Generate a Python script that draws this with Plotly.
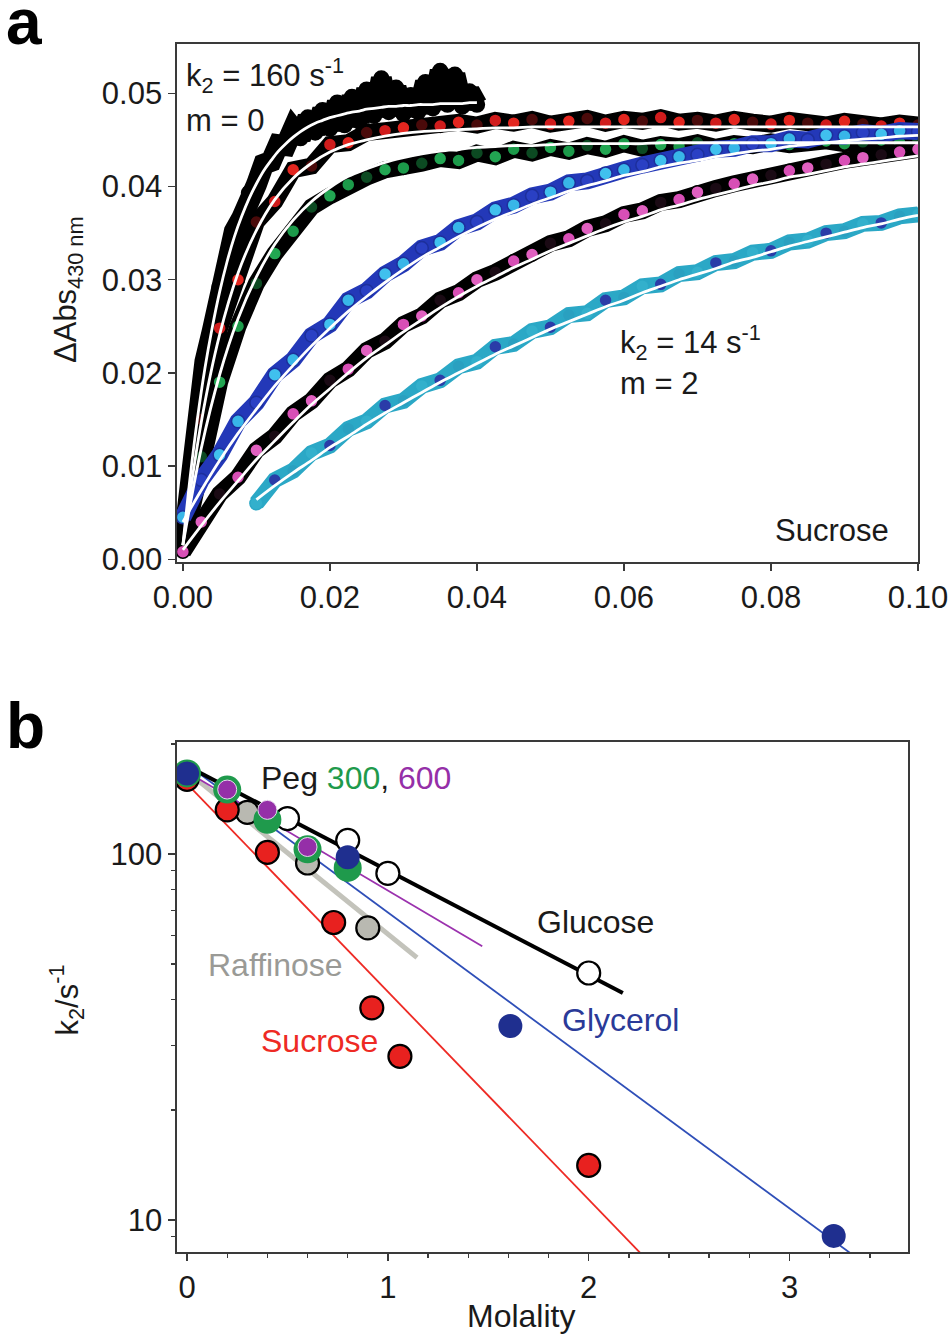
import plotly.graph_objects as go

# ---------------- Panel a data (time in s, dAbs) ----------------
T = [0.0, 0.0025, 0.005, 0.0075, 0.01, 0.0125, 0.015, 0.0175, 0.02, 0.0225,
     0.025, 0.0275, 0.03, 0.0325, 0.035, 0.0375, 0.04, 0.0425, 0.045, 0.0475,
     0.05, 0.0525, 0.055, 0.0575, 0.06, 0.0625, 0.065, 0.0675, 0.07, 0.0725,
     0.075, 0.0775, 0.08, 0.0825, 0.085, 0.0875, 0.09, 0.0925, 0.095, 0.0975, 0.1]
T_BLACK = [0.0, 0.001, 0.002, 0.003, 0.004, 0.005, 0.006, 0.007, 0.008, 0.009,
           0.010, 0.011, 0.012, 0.013, 0.014, 0.015, 0.016, 0.017, 0.018, 0.019,
           0.020, 0.021, 0.022, 0.023, 0.024, 0.025, 0.026, 0.027, 0.028, 0.029,
           0.030, 0.031, 0.032, 0.033, 0.034, 0.035, 0.036, 0.037, 0.038, 0.039, 0.040]
T_TEAL = T[4:]

black_data = [0.0012, 0.0088, 0.0150, 0.0212, 0.0245, 0.0292, 0.0318, 0.0352, 0.0366, 0.0393,
              0.0402, 0.0424, 0.0427, 0.0445, 0.0444, 0.0462, 0.0452, 0.0474, 0.0458, 0.0482,
              0.0462, 0.0490, 0.0466, 0.0496, 0.0470, 0.0504, 0.0476, 0.0516, 0.0480, 0.0506,
              0.0478, 0.0498, 0.0480, 0.0512, 0.0484, 0.0524, 0.0488, 0.0520, 0.0486, 0.0502, 0.0488]
black_fit = [0.0015, 0.0089, 0.0152, 0.0205, 0.0249, 0.0287, 0.0319, 0.0346, 0.0368, 0.0387,
             0.0403, 0.0417, 0.0428, 0.0438, 0.0446, 0.0453, 0.0459, 0.0464, 0.0468, 0.0471,
             0.0474, 0.0476, 0.0478, 0.0480, 0.0481, 0.0483, 0.0484, 0.0485, 0.0486, 0.0486,
             0.0487, 0.0487, 0.0488, 0.0488, 0.0488, 0.0489, 0.0489, 0.0489, 0.0489, 0.0490, 0.0490]

red_data = [0.0020, 0.0150, 0.0248, 0.0300, 0.0362, 0.0384, 0.0418, 0.0422, 0.0445, 0.0447,
            0.0458, 0.0460, 0.0463, 0.0466, 0.0465, 0.0469, 0.0466, 0.0471, 0.0468, 0.0472,
            0.0467, 0.0470, 0.0473, 0.0468, 0.0472, 0.0470, 0.0474, 0.0469, 0.0471, 0.0468,
            0.0472, 0.0469, 0.0467, 0.0471, 0.0468, 0.0466, 0.0470, 0.0467, 0.0465, 0.0468, 0.0466]
red_fit = [0.0015, 0.0147, 0.0241, 0.0307, 0.0353, 0.0386, 0.0409, 0.0425, 0.0437, 0.0445,
           0.0450, 0.0454, 0.0457, 0.0459, 0.0460, 0.0461, 0.0462, 0.0463, 0.0463, 0.0464,
           0.0464, 0.0464, 0.0464, 0.0464, 0.0464, 0.0464, 0.0464, 0.0464, 0.0464, 0.0464,
           0.0464, 0.0464, 0.0464, 0.0464, 0.0464, 0.0464, 0.0464, 0.0464, 0.0464, 0.0464, 0.0464]

green_data = [0.0010, 0.0110, 0.0190, 0.0250, 0.0296, 0.0328, 0.0352, 0.0378, 0.0390, 0.0402,
              0.0410, 0.0418, 0.0420, 0.0425, 0.0430, 0.0428, 0.0436, 0.0432, 0.0440, 0.0436,
              0.0442, 0.0438, 0.0444, 0.0440, 0.0446, 0.0441, 0.0445, 0.0443, 0.0447, 0.0442,
              0.0446, 0.0444, 0.0448, 0.0445, 0.0447, 0.0449, 0.0446, 0.0448, 0.0450, 0.0447, 0.0449]
green_fit = [0.0015, 0.0119, 0.0198, 0.0258, 0.0303, 0.0338, 0.0364, 0.0384, 0.0399, 0.0411,
             0.0419, 0.0426, 0.0431, 0.0435, 0.0438, 0.0440, 0.0442, 0.0443, 0.0444, 0.0444,
             0.0445, 0.0446, 0.0446, 0.0446, 0.0446, 0.0446, 0.0447, 0.0447, 0.0447, 0.0447,
             0.0447, 0.0447, 0.0447, 0.0447, 0.0447, 0.0447, 0.0447, 0.0447, 0.0447, 0.0447, 0.0447]

blue_data = [0.0045, 0.0085, 0.0112, 0.0148, 0.0168, 0.0198, 0.0214, 0.0240, 0.0252, 0.0278,
             0.0288, 0.0306, 0.0317, 0.0334, 0.0340, 0.0356, 0.0362, 0.0375, 0.0380, 0.0390,
             0.0394, 0.0404, 0.0406, 0.0414, 0.0418, 0.0423, 0.0428, 0.0432, 0.0434, 0.0440,
             0.0441, 0.0446, 0.0446, 0.0451, 0.0450, 0.0455, 0.0454, 0.0458, 0.0456, 0.0460, 0.0459]
blue_fit = [0.0040, 0.0074, 0.0106, 0.0135, 0.0161, 0.0186, 0.0208, 0.0229, 0.0248, 0.0266,
            0.0282, 0.0297, 0.0311, 0.0324, 0.0335, 0.0346, 0.0356, 0.0365, 0.0373, 0.0381,
            0.0388, 0.0395, 0.0401, 0.0406, 0.0412, 0.0416, 0.0421, 0.0425, 0.0428, 0.0432,
            0.0435, 0.0438, 0.0440, 0.0443, 0.0445, 0.0447, 0.0449, 0.0451, 0.0452, 0.0454, 0.0455]

magenta_data = [0.0008, 0.0040, 0.0070, 0.0088, 0.0117, 0.0132, 0.0156, 0.0170, 0.0192, 0.0204,
                0.0224, 0.0234, 0.0252, 0.0261, 0.0278, 0.0286, 0.0300, 0.0308, 0.0320, 0.0327,
                0.0339, 0.0344, 0.0355, 0.0360, 0.0370, 0.0374, 0.0383, 0.0386, 0.0394, 0.0398,
                0.0403, 0.0408, 0.0412, 0.0417, 0.0420, 0.0424, 0.0428, 0.0431, 0.0434, 0.0437, 0.0440]
magenta_fit = [0.0010, 0.0036, 0.0061, 0.0084, 0.0107, 0.0127, 0.0147, 0.0166, 0.0183, 0.0200,
               0.0216, 0.0230, 0.0244, 0.0257, 0.0270, 0.0282, 0.0293, 0.0303, 0.0313, 0.0322,
               0.0331, 0.0339, 0.0347, 0.0355, 0.0362, 0.0368, 0.0375, 0.0380, 0.0386, 0.0391,
               0.0396, 0.0401, 0.0405, 0.0410, 0.0413, 0.0417, 0.0421, 0.0424, 0.0427, 0.0430, 0.0433]

teal_data = [0.0060, 0.0085, 0.0095, 0.0114, 0.0122, 0.0140, 0.0148, 0.0165, 0.0170, 0.0186,
             0.0192, 0.0207, 0.0212, 0.0228, 0.0231, 0.0245, 0.0249, 0.0262, 0.0264, 0.0278,
             0.0281, 0.0293, 0.0295, 0.0306, 0.0308, 0.0318, 0.0320, 0.0329, 0.0331, 0.0340,
             0.0342, 0.0350, 0.0352, 0.0360, 0.0361, 0.0368, 0.0370]
teal_fit = [0.0064, 0.0079, 0.0093, 0.0106, 0.0120, 0.0132, 0.0145, 0.0157, 0.0168, 0.0179,
            0.0190, 0.0200, 0.0210, 0.0220, 0.0229, 0.0238, 0.0247, 0.0255, 0.0263, 0.0271,
            0.0278, 0.0286, 0.0293, 0.0300, 0.0306, 0.0312, 0.0319, 0.0324, 0.0330, 0.0336,
            0.0341, 0.0346, 0.0351, 0.0356, 0.0360, 0.0365, 0.0369]

A_XTICKS = [0.0, 0.02, 0.04, 0.06, 0.08, 0.10]
A_XLABELS = ["0.00", "0.02", "0.04", "0.06", "0.08", "0.10"]
A_YTICKS = [0.0, 0.01, 0.02, 0.03, 0.04, 0.05]
A_YLABELS = ["0.00", "0.01", "0.02", "0.03", "0.04", "0.05"]

# ---------------- Panel b data (molality, k2 / s^-1) ----------------
suc_m = [0.0, 0.20, 0.40, 0.73, 0.92, 1.06, 2.0]
suc_k = [160, 132, 101, 65, 38, 28, 14.1]
raf_m = [0.3, 0.6, 0.9]
raf_k = [130, 94.5, 62.8]
glu_m = [0.5, 0.8, 1.0, 2.0]
glu_k = [125, 109, 88.5, 47.3]
gly_m = [0.0, 0.8, 1.61, 3.22]
gly_k = [166, 98, 33.9, 9.05]
peg300_m = [0.0, 0.2, 0.4, 0.6, 0.8]
peg300_k = [166, 150, 124, 103, 91.6]
peg600_m = [0.2, 0.4, 0.6]
peg600_k = [150, 132, 104.5]

suc_fit_m, suc_fit_k = [0.0, 2.4], [155.5, 6.74]
gly_fit_m, gly_fit_k = [0.0, 3.45], [175.5, 7.08]
glu_fit_m, glu_fit_k = [0.0, 2.17], [174.0, 41.7]
peg600_fit_m, peg600_fit_k = [0.0, 1.47], [167.5, 56.0]
raf_fit_m, raf_fit_k = [0.0, 1.145], [168.0, 52.1]

B_XTICKS = [0, 1, 2, 3]
B_YTICKS = [10, 100]
B_YMINOR = [9, 20, 30, 40, 50, 60, 70, 80, 90, 200]

# ---------------- figure ----------------
W, H = 949, 1338
FONT = "Liberation Sans, Arial, Helvetica, sans-serif"


def px(x):
    return x / W


def py(y):
    return 1 - y / H


fig = go.Figure()


def add(tr):
    fig.add_trace(tr)


def band(t, v, line_color, line_w, dot_colors, dot_line, size=13):
    add(go.Scatter(x=t, y=v, mode="lines", line=dict(color=line_color, width=line_w),
                   xaxis="x", yaxis="y", hoverinfo="skip"))
    cols = [dot_colors[i % len(dot_colors)] for i in range(len(t))]
    add(go.Scatter(x=t, y=v, mode="markers",
                   marker=dict(size=size, color=cols, line=dict(color=dot_line, width=1.5)),
                   xaxis="x", yaxis="y", hoverinfo="skip"))


def fitline(t, v):
    add(go.Scatter(x=t, y=v, mode="lines", line=dict(color="white", width=2.8, shape="spline"),
                   xaxis="x", yaxis="y", hoverinfo="skip"))


band(T_BLACK, black_data, "black", 21, ["black"], "black", size=15)
band(T, red_data, "black", 17, ["#e3261f", "#4a0a0a", "#d01c1c"], "black")
band(T, green_data, "black", 17, ["#1c9a4a", "#0c4a22", "#22a652"], "black")
band(T, magenta_data, "black", 17, ["#d84fb6", "#e060c0", "#1a0a14"], "black")
band(T, blue_data, "#2338b8", 17, ["#38b6e8", "#2a40c4", "#40c0ee"], "#1d2f9c")
band(T_TEAL, teal_data, "#2ba8c6", 16, ["#33b0cc", "#2a3ca8", "#2aa0c0"], "#2ba8c6")

fitline(T_BLACK, black_fit)
fitline(T, red_fit)
fitline(T, green_fit)
fitline(T, blue_fit)
fitline(T, magenta_fit)
fitline(T_TEAL, teal_fit)


def bline(m, k, color, width):
    add(go.Scatter(x=m, y=k, mode="lines", line=dict(color=color, width=width),
                   xaxis="x2", yaxis="y2", hoverinfo="skip"))


def bpts(m, k, color, size, lcolor, lwidth):
    add(go.Scatter(x=m, y=k, mode="markers",
                   marker=dict(size=size, color=color, line=dict(color=lcolor, width=lwidth)),
                   xaxis="x2", yaxis="y2", hoverinfo="skip"))


bline(raf_fit_m, raf_fit_k, "#c3c3bb", 5)
bline(suc_fit_m, suc_fit_k, "#ee2a24", 1.8)
bline(gly_fit_m, gly_fit_k, "#2f4fb8", 1.8)
bline(peg600_fit_m, peg600_fit_k, "#9b32ae", 1.8)
bline(glu_fit_m, glu_fit_k, "black", 4)

bpts(raf_m, raf_k, "#b9b9b1", 23, "black", 2.2)
bpts(glu_m, glu_k, "white", 23, "black", 2.2)
bpts(suc_m, suc_k, "#e8211f", 23, "black", 2.2)
bpts(peg300_m, peg300_k, "#1f9a4c", 28, "#1f9a4c", 0)
bpts(peg600_m, peg600_k, "#952fa8", 19, "#e8d8ee", 1)
bpts(gly_m, gly_k, "#1f2f8f", 24, "#1f2f8f", 0)

axis_common = dict(showline=True, mirror=True, linecolor="#3a3a3a", linewidth=1.6,
                   ticks="outside", ticklen=7, tickwidth=1.4, tickcolor="#3a3a3a",
                   showgrid=False, zeroline=False, automargin=False,
                   ticklabeloverflow="allow",
                   tickfont=dict(family=FONT, size=31, color="#1a1a1a"))

fig.update_layout(
    width=W, height=H, margin=dict(l=0, r=0, t=0, b=0, pad=0, autoexpand=False),
    paper_bgcolor="white", plot_bgcolor="white", showlegend=False,
    font=dict(family=FONT, color="#1a1a1a"),
    xaxis=dict(domain=[px(177), px(918)], range=[-0.0008, 0.1], anchor="y",
               tickvals=A_XTICKS, ticktext=A_XLABELS, **axis_common),
    yaxis=dict(domain=[py(562), py(44)], range=[-0.0003, 0.0553], anchor="x",
               tickvals=A_YTICKS, ticktext=A_YLABELS, **axis_common),
    xaxis2=dict(domain=[px(177), px(908)], range=[-0.05, 3.59], anchor="y2",
                tickvals=B_XTICKS, ticktext=[str(v) for v in B_XTICKS],
                minor=dict(ticks="outside", ticklen=4, dtick=0.2, tick0=0, tickcolor="#3a3a3a"),
                **axis_common),
    yaxis2=dict(domain=[py(1252), py(742)], type="log", range=[0.9126, 2.306], anchor="x2",
                tickvals=B_YTICKS, ticktext=[str(v) for v in B_YTICKS],
                minor=dict(ticks="outside", ticklen=4, tickvals=B_YMINOR, tickcolor="#3a3a3a"),
                **axis_common),
)


def note(text, x, y, size=31, color="#1a1a1a", xanchor="left", angle=0, bold=False):
    fig.add_annotation(text=("<b>%s</b>" % text) if bold else text,
                       x=px(x), y=py(y), xref="paper", yref="paper",
                       xanchor=xanchor, yanchor="middle", showarrow=False, textangle=angle,
                       font=dict(family=FONT, size=size, color=color))


# panel letters
note("a", 4, 22, size=64, color="black", bold=True)
note("b", 4, 726, size=64, color="black", bold=True)

# panel a labels
note("k<sub>2</sub> = 160 s<sup>-1</sup>", 184, 75)
note("m = 0", 184, 120)
note("k<sub>2</sub> = 14 s<sup>-1</sup>", 618, 342)
note("m = 2", 618, 383)
note("Sucrose", 891, 530, xanchor="right")
note("ΔAbs<sub>430 nm</sub>", 46, 290, angle=-90)

# panel b labels
note("Peg <span style='color:#1f9a4c'>300</span>, <span style='color:#952fa8'>600</span>", 259, 778, size=32)
note("Glucose", 535, 922, size=32)
note("Glycerol", 560, 1020, size=32, color="#2a3a98")
note("Raffinose", 206, 965, size=32, color="#9a9a96")
note("Sucrose", 259, 1041, size=32, color="#ee2a24")
note("k<sub>2</sub>/s<sup>-1</sup>", 42, 1000, angle=-90)
note("Molality", 521, 1316, xanchor="center", size=32)

fig.write_html("out.html",
               config={"displayModeBar": False, "staticPlot": True},
               post_script="document.body.style.margin='0';document.body.style.padding='0';"
                           "document.documentElement.style.margin='0';")
